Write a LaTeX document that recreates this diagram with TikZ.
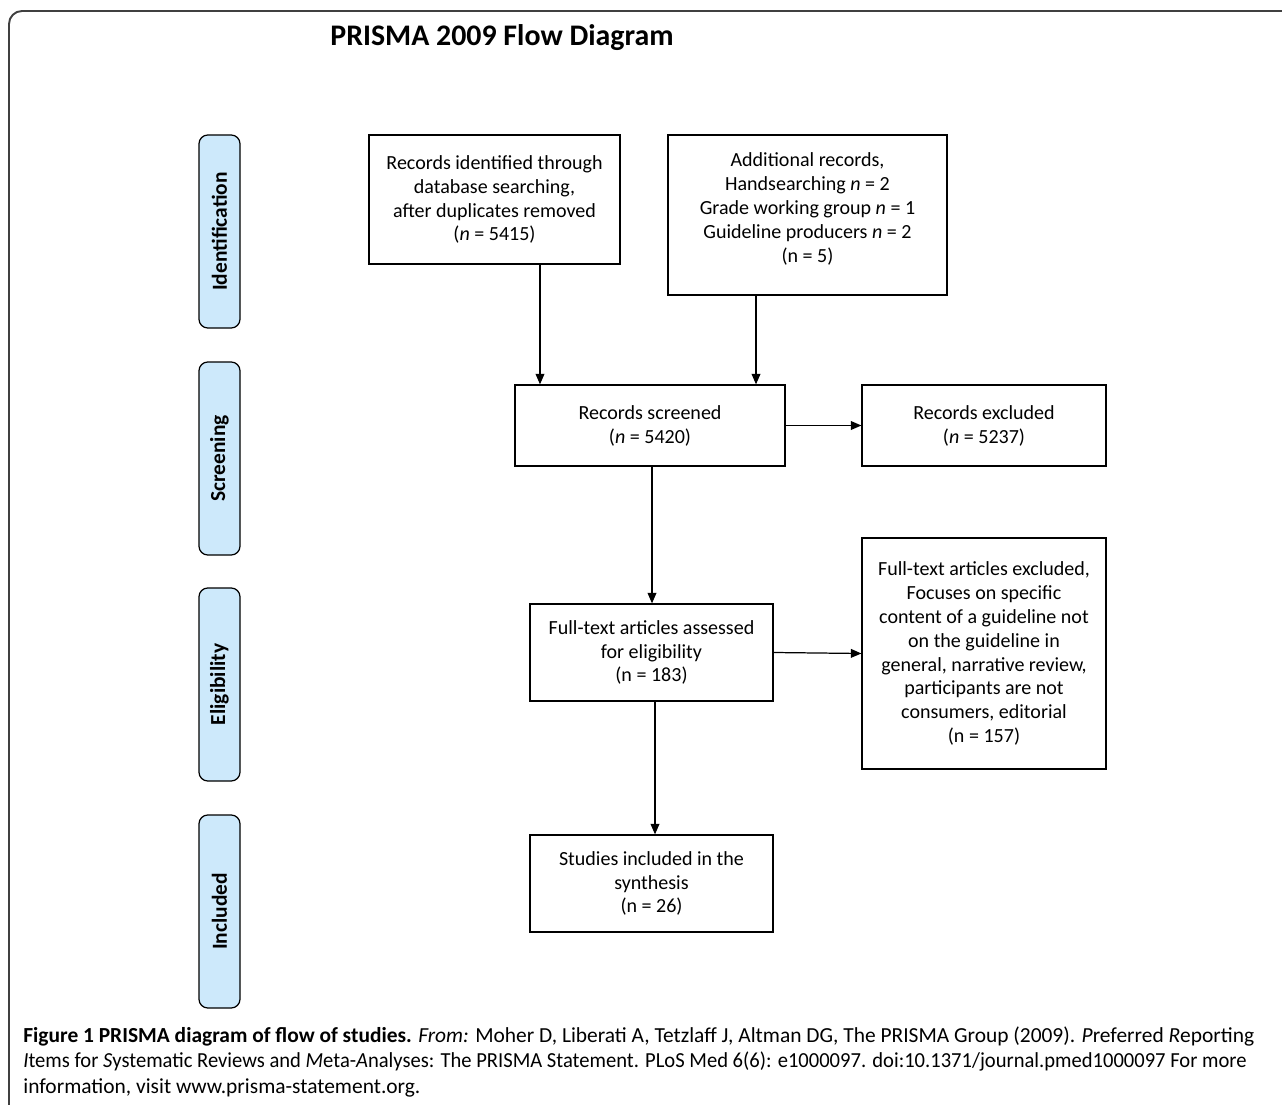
\documentclass[tikz,border=0pt]{standalone}
\usepackage{fontspec}
\setmainfont{Carlito}
\usetikzlibrary{arrows.meta}
\definecolor{phasefill}{RGB}{205,233,251}

\begin{document}
\begin{tikzpicture}[x=0.02cm,y=-0.02cm,
  box/.style={draw,line width=0.7pt,align=center,inner sep=2pt,font=\fontsize{11.4}{13.6}\selectfont},
  phase/.style={draw,line width=0.7pt,fill=phasefill,rounded corners=5pt,minimum width=41*0.02cm,minimum height=193*0.02cm},
  phaselab/.style={rotate=90,font=\fontsize{12.2}{14}\selectfont\bfseries},
  arr/.style={line width=0.7pt,-{Triangle[length=6pt,width=5pt]}}]
\useasboundingbox (0,0) rectangle (1282,1105);
% frame, cut at right and bottom
\draw[line width=1.1pt,black!75,rounded corners=0.26cm] (9,1105) -- (9,11) -- (1282,11);
\node[font=\fontsize{17}{20}\selectfont\bfseries] (title) at (502,38) {PRISMA 2009 Flow Diagram};

% phases
\node[phase] (idbox) at (219.5,231.5) {};
\node[phaselab] (idlab) at (idbox) {Identification};
\node[phase] (scrbox) at (219.5,458.5) {};
\node[phaselab] (scrlab) at (scrbox) {Screening};
\node[phase] (elbox) at (219.5,684.5) {};
\node[phaselab] (ellab) at (elbox) {Eligibility};
\node[phase] (incbox) at (219.5,911.5) {};
\node[phaselab] (inclab) at (incbox) {Included};

% boxes
\node[box,minimum width=251*0.02cm,minimum height=129*0.02cm] (dbrec) at (494.5,199.5)
  {Records identified through\\database searching,\\after duplicates removed\\(\textit{n} = 5415)};
\node[box,minimum width=279*0.02cm,minimum height=160*0.02cm,text depth=0.3cm] (addrec) at (807.5,215)
  {Additional records,\\Handsearching \textit{n} = 2\\Grade working group \textit{n} = 1\\Guideline producers \textit{n} = 2\\(n = 5)};
\node[box,minimum width=270*0.02cm,minimum height=81*0.02cm] (screened) at (650,425.5)
  {Records screened\\(\textit{n} = 5420)};
\node[box,minimum width=244*0.02cm,minimum height=81*0.02cm] (excl) at (984,425.5)
  {Records excluded\\(\textit{n} = 5237)};
\node[box,minimum width=243*0.02cm,minimum height=97*0.02cm] (fulltext) at (651.5,652.5)
  {Full-text articles assessed\\for eligibility\\(n = 183)};
\node[box,minimum width=244*0.02cm,minimum height=231*0.02cm] (ftexcl) at (984,653.5)
  {Full-text articles excluded,\\Focuses on specific\\content of a guideline not\\on the guideline in\\general, narrative review,\\participants are not\\consumers, editorial\\(n = 157)};
\node[box,minimum width=243*0.02cm,minimum height=97*0.02cm] (included) at (651.5,883.5)
  {Studies included in the\\synthesis\\(n = 26)};

% arrows
\draw[arr] ([xshift=0.91cm]dbrec.south) -- ([xshift=0.91cm]dbrec.south |- screened.north);
\draw[arr] ([xshift=-1.03cm]addrec.south) -- ([xshift=-1.03cm]addrec.south |- screened.north);
\draw[arr] (screened.east) -- (excl.west);
\draw[arr] ([xshift=0.04cm]screened.south) -- ([xshift=0.04cm]screened.south |- fulltext.north);
\draw[arr] (fulltext.east) -- (ftexcl.west);
\draw[arr] ([xshift=0.07cm]fulltext.south) -- ([xshift=0.07cm]fulltext.south |- included.north);

% caption
\node[anchor=north west,align=left,inner sep=0pt,font=\fontsize{12.2}{14.7}\selectfont] (caption) at (23,1026)
  {\textbf{Figure 1 PRISMA diagram of flow of studies.} \textit{From:} Moher D, Liberati A, Tetzlaff J, Altman DG, The PRISMA Group (2009). \textit{P}referred \textit{R}eporting\\
   \scalebox{0.96}[1]{\textit{I}tems for \textit{S}ystematic Reviews and \textit{M}eta-\textit{A}nalyses: The PRISMA Statement. PLoS Med 6(6): e1000097. doi:10.1371/journal.pmed1000097 For more}\\
   information, visit www.prisma-statement.org.};
\end{tikzpicture}
\end{document}
